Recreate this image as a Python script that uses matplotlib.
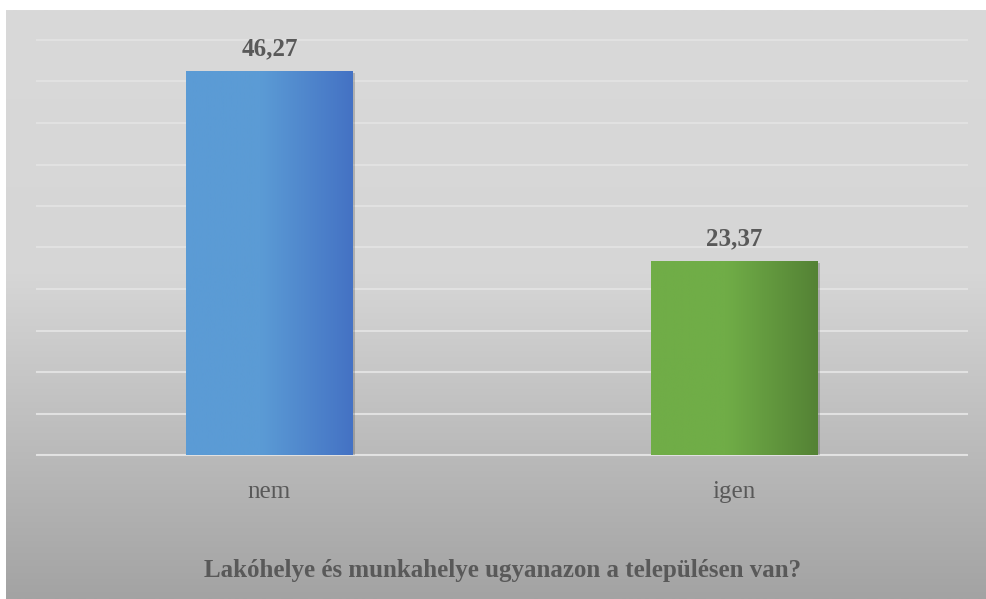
import numpy as np
import matplotlib
matplotlib.use("Agg")
import matplotlib.pyplot as plt
import matplotlib.patheffects as pe
from matplotlib.colors import LinearSegmentedColormap

# ---------- data ----------
categories = ["nem", "igen"]
values = [46.27, 23.37]
value_labels = ["46,27", "23,37"]
title = "Lakóhelye és munkahelye ugyanazon a településen van?"

bar_gradients = [("#5b9bd5", "#4472c4"), ("#70ad47", "#548235")]
text_color = "#595959"

plt.rcParams["font.family"] = ["Liberation Serif", "DejaVu Serif"]

W, H = 986, 599
fig = plt.figure(figsize=(W / 100, H / 100), dpi=100)
fig.patch.set_facecolor("white")

# ---------- background gradient (chart area) ----------
bg = fig.add_axes([6 / W, 0, 980 / W, 589 / H], zorder=0)
bg_cmap = LinearSegmentedColormap.from_list(
    "bg", [(0, "#d9d9d9"), (0.45, "#d6d6d6"), (1, "#a3a3a3")])
bg.imshow(np.linspace(0, 1, 256).reshape(-1, 1), cmap=bg_cmap,
          aspect="auto", extent=[0, 1, 0, 1], origin="upper")
bg.axis("off")

# ---------- plot area ----------
ax = fig.add_axes([37 / W, 144 / H, 930 / W, 415 / H], zorder=1)
ax.patch.set_alpha(0)
ax.set_xlim(-0.5, len(categories) - 0.5)
ax.set_ylim(0, 50)
ax.set_yticks(np.arange(0, 51, 5))
ax.yaxis.grid(True, color="#e1e1e1", linewidth=1.5)
ax.set_axisbelow(True)
for g in ax.get_ygridlines():
    g.set_clip_on(False)
for s in ax.spines.values():
    s.set_visible(False)
ax.axhline(0, color="#e3e3e3", linewidth=2.2, zorder=1.5)
ax.tick_params(axis="y", left=False, labelleft=False)
ax.set_xticks(range(len(categories)))
ax.set_xticklabels(categories, fontsize=18, color=text_color)
ax.tick_params(axis="x", length=0, pad=19)

x = np.arange(len(categories))
bars = ax.bar(x, values, width=0.357, color="#888888", zorder=2,
              path_effects=[pe.SimplePatchShadow(offset=(1.5, -1.5), alpha=0.3, shadow_rgbFace="#555555"),
                            pe.Normal()])

for b, (c0, c1) in zip(bars, bar_gradients):
    cmap = LinearSegmentedColormap.from_list("b", [(0, c0), (0.45, c0), (1, c1)])
    x0, w, h = b.get_x(), b.get_width(), b.get_height()
    im = ax.imshow(np.linspace(0, 1, 256).reshape(1, -1), cmap=cmap, aspect="auto",
                   extent=[x0, x0 + w, 0, h], zorder=2.5)
    im.set_clip_path(b)

ax.set_xlim(-0.5, len(categories) - 0.5)
ax.set_ylim(0, 50)

for xi, v, lab in zip(x, values, value_labels):
    ax.annotate(lab, (xi, v), xytext=(0, 11.5), textcoords="offset points",
                ha="center", va="baseline", fontsize=18, fontweight="bold",
                color=text_color)

fig.text(503 / W, (H - 571) / H, title, ha="center", va="center",
         fontsize=18, fontweight="bold", color=text_color)

fig.savefig("out.png", dpi=100)
